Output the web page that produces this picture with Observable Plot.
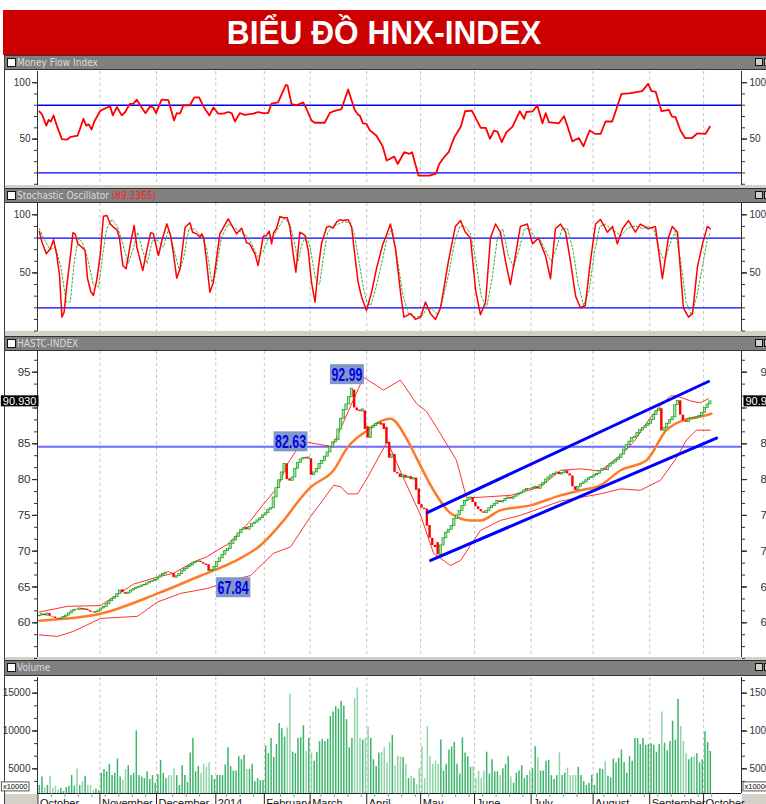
<!DOCTYPE html>
<html><head><meta charset="utf-8">
<script src="https://cdn.jsdelivr.net/npm/d3@7"></script>
<script src="https://cdn.jsdelivr.net/npm/@observablehq/plot@0.6"></script>
<style>
body{margin:0;background:#fff;}
#root{position:relative;width:766px;height:804px;overflow:hidden;background:#fff;font-family:"Liberation Sans",Arial,sans-serif;}
#banner{position:absolute;left:3px;top:10px;width:763px;height:45px;background:#cc0000;color:#fff;text-align:center;font:bold 34px "Liberation Sans",Arial,sans-serif;line-height:45px;}
#banner span{display:inline-block;transform:scaleX(0.93);}
.hdr{position:absolute;left:5px;width:761px;height:13px;background:#808080;border-top:1px solid #333;border-bottom:1px solid #333;color:#dcdcdc;font:10px "Liberation Sans Narrow","DejaVu Sans Condensed","Liberation Sans",sans-serif;line-height:13px;}
.hdr .cb{position:absolute;left:2px;top:2px;width:7px;height:7px;background:#fff;border:1px solid #111;}
.hdr .t{position:absolute;left:12px;top:0;}
.hdr .ic{position:absolute;left:750px;top:2px;width:6px;height:6px;background:#d4d0c8;border:1px solid #111;}
.hdr .ic2{position:absolute;left:759px;top:2px;width:6px;height:6px;background:#d4d0c8;border:1px solid #111;}
.sep{position:absolute;left:5px;width:761px;background:#d4d0c8;}
.frame{position:absolute;left:4px;width:1px;background:#404040;}
.pnl{position:absolute;left:0;}
.gray{position:absolute;background:#d4d0c8;}
</style></head>
<body>
<div id="root">
  <div id="banner"><span>BIỂU ĐỒ HNX-INDEX</span></div>
  <div class="hdr" style="top:55px"><div class="cb"></div><span class="t">Money Flow Index</span><div class="ic"></div><div class="ic2"></div></div>
  <div class="sep" style="top:185px;height:3px"></div>
  <div class="hdr" style="top:188px"><div class="cb"></div><span class="t">Stochastic Oscillator <span style="color:#ff2020">(89.3365)</span></span><div class="ic"></div><div class="ic2"></div></div>
  <div class="sep" style="top:331px;height:5px"></div>
  <div class="hdr" style="top:336px"><div class="cb"></div><span class="t">HASTC-INDEX</span><div class="ic"></div><div class="ic2"></div></div>
  <div class="sep" style="top:657px;height:3px"></div>
  <div class="hdr" style="top:660px;height:14px"><div class="cb"></div><span class="t">Volume</span><div class="ic"></div><div class="ic2"></div></div>
  <div class="frame" style="top:55px;height:749px"></div>
  <div class="gray" style="left:5px;top:794px;width:32px;height:10px"></div>
  <div class="gray" style="left:742px;top:794px;width:24px;height:10px"></div>
</div>
<script>
// ---------- DATA ----------
const monthNames = ["October","November","December","2014","February","March","April","May","June","July","August","September","October"];
const monthTicks = [-0.5, 22.5, 43.5, 65.5, 83.5, 100.5, 121.5, 141.5, 161.5, 182.5, 205.5, 226.5, 246.5];

const closes = [
 61.0,61.2,61.0,61.3,60.9,60.8,60.6,60.5,60.6,60.8,61.0,61.3,61.6,61.8,61.8,62.0,61.8,61.9,61.7,61.5,61.4,61.5,61.7,
 62.0,62.2,62.6,63.0,63.3,63.6,64.0,64.5,64.2,64.0,64.2,64.5,64.7,64.9,65.0,65.2,65.3,65.5,65.7,65.8,66.0,
 66.3,66.6,66.8,67.0,67.0,66.9,66.3,66.5,66.8,67.2,67.5,67.8,68.0,68.3,68.5,68.6,68.4,68.2,68.0,67.2,67.4,67.8,
 68.5,69.0,69.5,70.0,70.3,71.0,71.5,72.0,72.5,73.0,73.2,73.0,73.4,73.8,74.0,74.3,74.6,75.0,
 75.3,75.8,76.0,77.5,78.8,79.9,81.0,82.2,80.0,79.8,80.3,81.5,82.3,82.8,83.0,82.9,83.1,
 80.6,81.0,81.5,82.2,82.6,83.2,83.8,84.5,85.2,85.5,87.0,88.5,89.7,90.5,91.5,92.7,90.0,89.6,89.5,89.8,87.0,
 85.8,87.2,87.5,87.8,87.9,87.6,87.0,85.0,83.0,83.5,81.0,80.8,80.3,80.6,80.2,80.4,80.0,80.2,78.5,76.5,
 76.0,75.8,73.5,71.8,70.8,70.5,69.5,70.8,71.8,72.6,73.0,73.5,74.5,75.0,75.6,76.3,77.0,77.2,77.5,76.8,
 76.2,75.8,75.5,75.3,75.6,76.0,76.3,76.6,77.0,76.8,77.0,77.3,77.5,77.3,77.6,77.8,78.0,78.2,78.5,78.7,78.6,
 78.8,79.0,78.7,79.2,79.5,80.0,80.3,80.6,80.8,81.0,80.7,80.9,81.2,80.8,80.5,79.0,78.5,79.0,79.4,79.6,79.9,80.2,80.4,
 80.6,80.8,81.2,81.5,81.3,81.8,82.2,82.4,82.7,83.0,83.5,84.2,84.8,85.3,85.8,86.0,86.5,86.9,87.2,87.5,87.8,
 88.3,89.0,89.6,89.9,86.8,87.2,87.8,88.3,88.7,90.4,91.0,89.0,88.2,88.0,88.4,88.6,88.5,88.7,88.9,89.3,
 90.0,90.5,90.93];
const opens = [
 60.9,61.0,61.2,61.0,61.3,60.9,60.8,60.6,60.5,60.6,60.8,61.0,61.3,61.6,61.9,61.8,62.0,61.8,61.9,61.7,61.5,61.4,61.5,
 61.7,62.0,62.2,62.6,63.0,63.3,63.6,64.0,64.6,64.2,64.0,64.2,64.5,64.7,64.9,65.0,65.2,65.3,65.5,65.7,65.8,
 66.0,66.3,66.6,66.8,67.1,67.0,66.9,66.3,66.5,66.8,67.2,67.5,67.8,68.0,68.3,68.5,68.6,68.4,68.2,68.1,67.2,67.4,
 67.8,68.5,69.0,69.5,70.0,70.3,71.0,71.5,72.0,72.5,73.0,73.3,73.0,73.4,73.8,74.0,74.3,74.6,
 75.0,75.3,75.8,76.0,77.5,78.8,79.9,81.0,82.2,80.1,79.8,80.3,81.5,82.3,82.8,83.1,82.9,
 82.9,80.6,81.0,81.5,82.2,82.6,83.2,83.8,84.5,85.2,85.5,87.0,88.5,89.7,90.5,91.5,92.5,90.0,89.7,89.5,89.6,
 87.4,85.8,87.2,87.5,87.8,87.9,87.8,87.3,85.2,83.0,83.5,81.0,80.8,80.3,80.6,80.2,80.4,80.0,80.2,78.7,
 76.5,76.0,75.9,73.6,71.8,70.8,71.2,69.5,70.8,71.8,72.6,73.0,73.5,74.5,75.0,75.6,76.3,77.0,77.2,77.5,
 76.8,76.2,75.8,75.5,75.3,75.6,76.0,76.3,76.6,77.0,76.8,77.0,77.3,77.5,77.3,77.6,77.8,78.0,78.2,78.5,78.7,
 78.6,78.8,79.0,78.7,79.2,79.5,80.0,80.3,80.6,80.8,81.0,80.7,80.9,81.2,80.8,80.5,79.0,78.5,79.0,79.4,79.6,79.9,80.2,
 80.4,80.6,80.8,81.2,81.5,81.3,81.8,82.2,82.4,82.7,83.0,83.5,84.2,84.8,85.3,85.8,86.0,86.5,86.9,87.2,87.5,
 87.8,88.3,89.0,89.6,89.9,86.8,87.2,87.8,88.3,88.7,90.4,91.0,89.0,88.2,88.0,88.4,88.6,88.5,88.7,88.9,
 89.3,90.0,90.5];
const volumes = [
 2800,3900,2500,2800,4000,2400,2700,2200,2400,2000,2500,2700,4100,2700,5000,2800,3300,4000,2800,2800,2100,2300,2100,
 4400,4900,4600,5600,4100,4400,6300,3900,3500,4900,5400,4100,4400,10000,4100,3900,3700,4600,3600,4100,3100,
 4200,6100,4400,3700,4100,4100,5000,4100,2800,5400,4100,3200,7100,9000,4600,5300,4400,5600,5200,5800,4100,3600,
 4100,4100,4100,5500,7800,5300,4700,4700,6600,6200,6800,4900,4900,5600,3300,3700,3450,3450,
 8000,7000,9000,6500,8200,11000,10300,9200,10400,14900,7200,7000,9000,9100,10700,7300,9000,
 7100,6000,7200,8600,8900,8600,8900,11900,12500,13200,12900,13900,13300,11500,7800,9000,14300,15700,9000,8800,9000,
 10500,9000,6200,5300,7100,7200,7800,5800,8500,9400,5400,6700,6500,6500,5600,3700,4000,3700,2900,5000,
 7900,3700,10600,6600,5600,6000,5600,8800,4700,5600,7500,7900,8500,5600,4300,9100,7100,6600,5200,5300,
 3800,4700,3700,4700,7200,4300,6200,4600,4600,4100,5000,5600,6600,3900,3100,4400,4700,5400,3700,4100,4700,
 5000,7900,6500,4700,4700,6000,6100,4100,3600,4100,7100,4100,4400,5100,4100,4100,4100,5200,4100,3300,2800,3100,4100,
 2800,4400,5000,4900,6000,4000,3800,6300,5800,6400,7500,5800,4400,6600,6000,9000,9000,8200,9000,8100,8200,
 8300,8100,7200,8200,12500,8400,7400,8600,11300,8800,14200,10600,8600,7000,6200,6500,6600,7000,5800,6200,
 9900,8500,7300];

// [trading day, value]
const mfiPoints = [[0,74.5],[1,72],[2.6,62],[3.5,67],[4.3,65.6],[5.3,71],[6.5,62],[8.4,50],[10.2,49.5],[11.7,52],[14.2,53],[16.4,68],[17.4,62],[18.4,63],[19.4,58.5],[20.5,66],[22.6,75],[25.1,78],[26.3,79],[27.3,71],[28.8,78.5],[30.6,71],[31.9,74],[33.5,81],[34.9,81.5],[36.2,85],[37.4,80],[39.4,73],[41.1,79],[42.3,78],[43.3,73],[45.4,85],[47.9,84.5],[50,66.5],[51,73],[52.2,72.5],[53.5,80],[55.9,80],[57.5,87],[59.3,87],[60.9,79],[63.1,71],[64.6,78],[66.4,72.5],[68.3,72.5],[70.1,74],[71.4,73],[72.6,65.6],[74.4,73],[76.3,71.5],[79.4,72.5],[81.2,74],[83.1,73],[84.9,73],[86.2,81.5],[88.6,82.5],[91.5,98],[92.1,97.5],[93.6,81],[95.4,80],[97.9,82.5],[98.9,78],[101,66.5],[102.2,64.5],[105.9,64.5],[107.8,73.3],[109,74.5],[112.1,76.5],[114.6,94],[117,76],[118.3,71.5],[118.9,71],[120.1,64],[121.4,63.5],[122.6,58],[125.1,53],[127.4,43.7],[128.9,31],[131.7,34.5],[133,28],[135.4,38.4],[137.3,37],[138.3,38.4],[140.7,17.7],[144.7,17.7],[147.2,19.5],[148.4,28],[150.2,34],[151.9,38.4],[154,51.7],[156.4,61],[158,74.7],[160.5,75.3],[163.8,60],[165.7,60],[167.2,50.3],[168.8,57.6],[170,56.7],[171.6,47.3],[173.3,56],[175.6,61],[178.3,74.7],[179.9,68],[180.7,74],[183,74.5],[184.8,79.8],[186.7,64],[187.9,73],[189.1,65],[192.8,64],[194.7,70.3],[195.9,62],[197.8,48],[200.2,51],[201.9,43.7],[204.2,57.6],[206.4,54.6],[208.3,54.6],[210.1,65.6],[212.6,65.6],[216,90],[218.8,90.6],[223.7,92.5],[225.9,99],[227.2,92.5],[228.7,92],[230.9,74.7],[233.6,76],[234.8,70],[236.1,69.5],[237.9,57.6],[239.7,50.8],[242.2,51],[244.1,55],[247.2,54.6],[248.8,61]];

const stochK = [[0,85.6],[1,76.4],[2.6,66.4],[4.1,70.7],[5.3,78.5],[6.5,65],[7.5,47.8],[8.4,11.9],[9.2,16.2],[10.2,39],[11.5,63.5],[12.5,84.5],[13.3,83.6],[14.3,75],[15.8,72.1],[17,69.3],[17.9,45],[19.1,34],[20.1,30.6],[21.3,43.5],[22.6,65],[23.8,98.8],[25.1,99.4],[26.3,92.2],[27.5,89.3],[28.8,87],[29.7,80.7],[31,56.4],[32.2,53.5],[33.7,73.6],[35.2,90.8],[36.2,72.1],[38.4,52],[39.9,69.3],[41.3,84.5],[42.3,84],[44.2,65],[45.6,78.7],[47.3,92.2],[48.7,82.2],[49.7,67.8],[51,45.4],[52.2,53.5],[54.1,89.3],[55.9,93.1],[56.9,85],[58.4,83.6],[59.6,80.7],[60.3,83.6],[61.1,79.3],[62.1,59.2],[63.3,33.4],[64.6,42],[67,83.6],[70.1,96.5],[73.2,83.6],[75.1,88.5],[76.9,75.9],[78.1,75],[80,66.4],[81.2,56.4],[83.1,81.6],[84.3,82.2],[85.3,85.9],[86.2,75],[87,85],[88,88],[89.3,98.5],[90.5,97.4],[92,97.4],[93,89.3],[94.2,66.4],[95.2,50.6],[96.7,85],[98.6,82.2],[99.8,69.3],[101,42],[102.3,24.8],[103.5,53.5],[104.7,75],[106.6,89.3],[107.8,90.1],[109,88.5],[110.3,93.6],[111.5,95.7],[112.8,95.1],[114.6,95.7],[115.9,89.3],[117.1,65],[118.3,42],[119.6,29.1],[121.4,17.7],[123.3,33.4],[125.1,53.5],[127.4,74.2],
 [128.4,80],[130.3,92],[132.2,70],[134.2,30],[135.3,12],[137.8,15],[139.6,10],[141.5,12],[143.3,25],[145.1,15],[147,10],[148.9,20],[151.8,60],[154.4,90],[156.3,95],[158.1,85],[160,80],[161.9,35],[163.7,14],[165.6,25],[167.4,80],[169.3,92],[171.1,85],[173,60],[174.8,40],[176.7,65],[178.5,90],[181.1,92],[183,75],[185.2,80],[187.8,65],[189.7,45],[191.5,88],[193.4,92],[195.3,85],[197.1,60],[199,30],[200.8,20],[202.6,22],[204.5,60],[206.4,92],[208.2,96],[210.8,85],[212.7,90],[214.5,75],[216.4,88],[218.6,95],[221.2,85],[223,92],[226,88],[228.6,90],[231.2,45],[233.4,80],[234.9,90],[236.8,85],[239,20],[240.9,12],[242.4,15],[244.2,55],[246.1,75],[247.9,90],[249,88]];

const stochD = [[0,88],[2,78],[4,70],[6,72],[8,55],[10,25],[11.5,25],[13,60],[14.5,80],[16,76],[18,62],[20,40],[22,38],[23.5,65],[25,88],[27,96],[29,90],[31,75],[33,58],[35,72],[36.5,85],[38.5,68],[40,58],[42,78],[44,78],[46,72],[48,88],[50,70],[52,52],[53.5,62],[55.5,88],[57.5,88],[60,82],[62,72],[64,42],[65.5,50],[67.5,80],[70,92],[73,88],[75,85],[77,82],[79,74],[81,64],[83,68],[85,80],[87,82],[89,90],[91,97],[93,92],[94.5,78],[96,60],[97.5,75],[99,82],[100.5,72],[102.5,45],[104,40],[105.5,65],[107,85],[109,90],[111,92],[113,94],[115.5,93],[117,82],[118.5,62],[120,40],[121.5,25],[123,22],[125,38],[127.4,62],
 [129,80],[131,88],[133,60],[135,30],[137,15],[139.5,12],[142,13],[144,20],[146,18],[148,14],[150,30],[152,50],[154,75],[156,90],[158,90],[160,84],[162,60],[164,30],[166,20],[168,45],[170,80],[172,88],[174,65],[176,55],[178,70],[180,88],[182,88],[184,80],[186,78],[188,68],[190,60],[192,72],[194,88],[196,88],[198,70],[200,40],[202,22],[204,35],[206,68],[208,90],[210,92],[212,88],[214,85],[216,82],[218,88],[220,90],[222,90],[224,88],[226,90],[228,88],[230,70],[232,60],[234,75],[236,86],[238,60],[240,25],[242,14],[244,30],[246,55],[248,80],[249,85]];

const maPoints = [[0,60.3],[23,61.3],[44,64.1],[60,66.6],[72,68.5],[82,70.8],[90.7,74.3],[97,77.4],[100.6,78.9],[109.2,81.3],[114.4,84.5],[121.8,86.9],[127.7,88.3],[130.3,88.5],[136.6,85.5],[140,83],[146.3,78.5],[152.6,75.3],[160,74.3],[163.7,74.3],[171,75.7],[182.3,76.4],[193.4,77.8],[200.8,78.5],[208.2,79.2],[215.7,81.3],[225.3,82.7],[232.7,86.9],[239,88.3],[245.3,88.8],[249.4,89.2]];
const bbUpper = [[0,61.5],[10.5,62.3],[22.7,62.4],[35,65.4],[43.9,66.4],[49.8,66.9],[57.2,68.5],[62,69.2],[70,71],[78.5,74.3],[83.2,76.6],[88.4,78.9],[92.1,82.2],[97,85],[99.5,85.2],[108.8,84.6],[120.3,94.3],[127.7,92.5],[134,93.9],[140,90.6],[143.7,89.5],[147.4,87.3],[154.8,82.7],[158.5,77.5],[162,77.5],[175,77.8],[186,79],[193.4,81.3],[200.8,81.5],[208.2,81.2],[215.7,83.4],[220.5,85.2],[226.8,88.7],[230.5,90.3],[234.2,91.7],[236.4,91.7],[241.6,91],[245.3,90.7],[248.3,91.3]];
const bbLower = [[0,58.3],[6.8,58.1],[12.7,58.8],[22.7,60.6],[36.4,60.9],[43.9,62.9],[52.4,64.1],[62.4,64.8],[72,66],[78.4,66.6],[86.9,69.7],[93.2,70.6],[100.6,74.8],[106.9,78],[109.2,79.2],[111.8,79],[114.4,78],[118.1,78],[121.8,80.3],[126.6,83.6],[129.2,85.3],[134.2,81],[141.5,75],[146.3,69.7],[152.6,68],[156.3,68.7],[160,70.8],[163.7,72.9],[171.1,74.3],[178.5,75],[186,76],[193.4,77],[200.8,77.5],[208.2,78],[215.7,78.7],[223,78.5],[230.5,79.9],[236.4,83],[240.1,85.5],[243.8,86.9],[249,86.9]];

const channelUpper = [[144.0,75.4],[248.3,93.7]];
const channelLower = [[145.2,68.7],[251.3,85.8]];
const resistanceLevel = 84.6;
const annDays = [116, 91, 63];
const annValues = [92.99, 82.63, 67.84];
const lastPrice = 90.93;
const volumeUnit = "x10000";
const mfiLevels = [20, 80];
const stochLevels = [20, 80];
const priceLabels = [60, 65, 70, 75, 80, 85, 95];

// ---------- CHART ----------
const XD = [-0.668, 260.56];
const FONT = '"Liberation Sans Narrow","Liberation Sans",Arial,sans-serif';
const days = d3.range(closes.length).map(i => ({i, o: opens[i], c: closes[i], v: volumes[i]}));
const grid = Plot.ruleX(monthTicks.slice(1), {stroke: "#c4c4c4", strokeDasharray: "3,3", strokeWidth: 1});
const sideLines = Plot.ruleX(XD, {stroke: "#303030", strokeWidth: 1});

function yAxes(minor, major, fs, rightPad, majorTicks = major) {
  const fmt = d => String(d);
  return [
    Plot.axisY(minor, {anchor: "left", label: null, tickSize: 3, tickFormat: () => "", stroke: "#333"}),
    Plot.axisY(majorTicks, {anchor: "left", label: null, tickSize: 5, tickFormat: () => "", stroke: "#333"}),
    Plot.axisY(major, {anchor: "left", label: null, tickSize: 5, tickPadding: 2, tickFormat: fmt, fontSize: fs, color: "#333"}),
    Plot.axisY(minor, {anchor: "right", label: null, tickSize: 3, tickFormat: () => "", stroke: "#333"}),
    Plot.axisY(majorTicks, {anchor: "right", label: null, tickSize: 5, tickFormat: () => "", stroke: "#333"}),
    Plot.axisY(major, {anchor: "right", label: null, tickSize: 5, tickPadding: rightPad, tickFormat: fmt, fontSize: fs, color: "#333"})
  ];
}
function panel(top, height, ydom, marks, mb = 0) {
  const p = Plot.plot({
    width: 766, height: height + mb, marginLeft: 37, marginRight: 25, marginTop: 0, marginBottom: mb,
    x: {domain: XD, axis: null}, y: {domain: ydom, axis: null},
    style: {background: "transparent", fontFamily: FONT, fontSize: "10px", overflow: "visible"},
    marks
  });
  p.classList.add("pnl");
  p.style.top = top + "px";
  document.getElementById("root").appendChild(p);
  return p;
}
const pt = (arr) => arr.map(([d, v]) => ({d, v}));

// Money Flow Index
panel(71, 114, [8.9, 109.9], [
  grid,
  Plot.ruleY(mfiLevels, {stroke: "#0000ff", strokeWidth: 1.3}),
  Plot.line(pt(mfiPoints), {x: "d", y: "v", stroke: "#ff0000", strokeWidth: 1.8}),
  ...yAxes(d3.range(10, 101, 10), [50, 100], 10, 3),
  sideLines
]);

// Stochastic
panel(203, 128, [-0.4, 109.7], [
  grid,
  Plot.ruleY(stochLevels, {stroke: "#0000ff", strokeWidth: 1.3}),
  Plot.line(pt(stochD), {x: "d", y: "v", stroke: "#3cb043", strokeWidth: 1, strokeDasharray: "2,2"}),
  Plot.line(pt(stochK), {x: "d", y: "v", stroke: "#ff0000", strokeWidth: 1.5}),
  ...yAxes(d3.range(0, 101, 10), [50, 100], 10, 3),
  sideLines
]);

// Price
const up = days.filter(d => d.c >= d.o), down = days.filter(d => d.c < d.o);
const annMark = (k, dx, dy) => Plot.text([annValues[k]], {x: annDays[k], y: d => d, text: d => d.toFixed(2), dx, dy, fill: "#0000ee", fontWeight: "bold", fontSize: 19, ariaDescription: "ann"});
const priceSvg = panel(351, 306, [55.15, 97.89], [
  grid,
  Plot.ruleY([resistanceLevel], {stroke: "#6a6aff", strokeWidth: 2}),
  Plot.line(pt(bbUpper), {x: "d", y: "v", stroke: "#ff3030", strokeWidth: 1}),
  Plot.line(pt(bbLower), {x: "d", y: "v", stroke: "#ff3030", strokeWidth: 1}),
  Plot.line(pt(maPoints), {x: "d", y: "v", stroke: "#ff7a26", strokeWidth: 2.5, curve: "monotone-x"}),
  Plot.rect(up, {x1: d => d.i - 0.42, x2: d => d.i + 0.42, y1: "o", y2: "c", fill: "#a8e2a8", stroke: "#10a010", strokeWidth: 0.7}),
  Plot.rect(down, {x1: d => d.i - 0.45, x2: d => d.i + 0.45, y1: "o", y2: "c", fill: "#ff0000"}),
  Plot.line(pt(channelUpper), {x: "d", y: "v", stroke: "#0000ff", strokeWidth: 3}),
  Plot.line(pt(channelLower), {x: "d", y: "v", stroke: "#0000ff", strokeWidth: 3}),
  annMark(0, -5, -12),
  annMark(1, 6, -19),
  annMark(2, 24, 21),
  ...yAxes(d3.range(55, 97.9, 5 / 3), priceLabels, 11.5, 14, d3.range(60, 96, 5)),
  sideLines,
  Plot.text([lastPrice], {x: XD[0], y: d => d, text: d => d.toFixed(3), textAnchor: "end", dx: -1, fill: "#fff", fontSize: 11, ariaDescription: "tag"}),
  Plot.text([lastPrice], {x: XD[1], y: d => d, text: d => d.toFixed(3), textAnchor: "start", dx: 4, fill: "#fff", fontSize: 11, ariaDescription: "tag"})
]);

function addBoxes(svg, label, fill, padX, padY, fixedW, stroke) {
  svg.querySelectorAll(`g[aria-description="${label}"] text`).forEach(t => {
    if (fixedW) { t.setAttribute("textLength", fixedW); t.setAttribute("lengthAdjust", "spacingAndGlyphs"); }
    const b = t.getBBox();
    const r = document.createElementNS("http://www.w3.org/2000/svg", "rect");
    r.setAttribute("x", b.x - padX); r.setAttribute("y", b.y - padY);
    r.setAttribute("width", b.width + 2 * padX); r.setAttribute("height", b.height + 2 * padY);
    r.setAttribute("fill", fill);
    if (stroke) { r.setAttribute("stroke", stroke); r.setAttribute("stroke-width", 1); }
    if (t.getAttribute("transform")) r.setAttribute("transform", t.getAttribute("transform"));
    t.parentNode.insertBefore(r, t);
  });
}
addBoxes(priceSvg, "ann", "#8298c6", 1.5, -0.5, 31);
addBoxes(priceSvg, "tag", "#000", 2, -0.5, 0);

// Volume
const volDom = [1732, 17077];
const volSvg = panel(677, 116, volDom, [
  grid,
  Plot.ruleX(up, {x: "i", y1: volDom[0], y2: "v", stroke: "#3cb46a", strokeWidth: 1.5}),
  Plot.ruleX(down, {x: "i", y1: volDom[0], y2: "v", stroke: "#8fd4a9", strokeWidth: 1.5}),
  ...yAxes(d3.range(10000 / 3, 17000, 5000 / 3), [5000, 10000, 15000], 10, 3),
  sideLines,
  Plot.ruleY([volDom[0]], {stroke: "#222"}),
  Plot.axisX(d3.range(4.5, 250, 5).filter(t => monthTicks.every(m => Math.abs(m - t) > 1.2)), {anchor: "bottom", label: null, tickSize: 4, tickFormat: () => "", stroke: "#999"}),
  Plot.axisX(monthTicks, {anchor: "bottom", label: null, tickSize: 12, tickFormat: () => "", stroke: "#222"}),
  Plot.text(monthTicks, {x: d => d, text: (d, i) => monthNames[i], frameAnchor: "bottom", lineAnchor: "top", textAnchor: "start", dx: 2, dy: 6, fontSize: 11, fill: "#111"}),
  Plot.text([volDom[0]], {x: XD[0], y: d => d, text: () => volumeUnit, textAnchor: "end", dx: -10, dy: -7, fontSize: 7.5, fill: "#000", ariaDescription: "unit"}),
  Plot.text([volDom[0]], {x: XD[1], y: d => d, text: () => volumeUnit, textAnchor: "start", dx: 3, dy: -7, fontSize: 7.5, fill: "#000", ariaDescription: "unit"})
], 20);
addBoxes(volSvg, "unit", "#fff", 1.5, 0, 0, "#555");
</script>
</body></html>
